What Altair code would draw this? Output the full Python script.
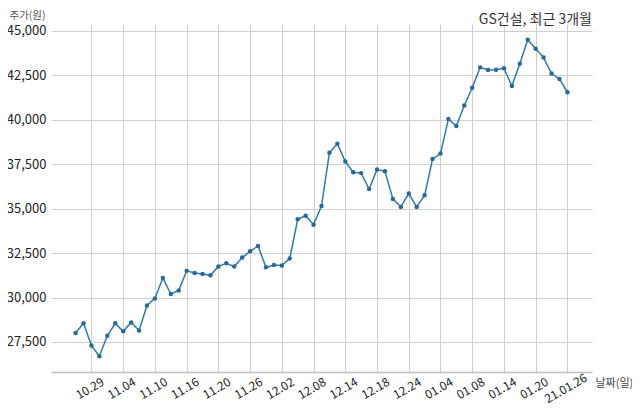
import altair as alt
import pandas as pd

dates = ["10.27","10.28","10.29","10.30","11.02","11.03","11.04","11.05","11.06","11.09",
         "11.10","11.11","11.12","11.13","11.16","11.17","11.18","11.19","11.20","11.23",
         "11.24","11.25","11.26","11.27","11.30","12.01","12.02","12.03","12.04","12.07",
         "12.08","12.09","12.10","12.11","12.14","12.15","12.16","12.17","12.18","12.21",
         "12.22","12.23","12.24","12.28","12.29","12.30","01.04","01.05","01.06","01.07",
         "01.08","01.11","01.12","01.13","01.14","01.15","01.18","01.19","01.20","01.21",
         "01.22","01.25","01.26"]

prices = [28000, 28550, 27300, 26700, 27850, 28550, 28100, 28600, 28150, 29550,
          29950, 31100, 30200, 30400, 31500, 31380, 31330, 31250, 31750, 31930,
          31740, 32250, 32600, 32900, 31700, 31830, 31800, 32200, 34400, 34600,
          34100, 35150, 38150, 38650, 37650, 37050, 37000, 36100, 37200, 37100,
          35550, 35100, 35850, 35100, 35750, 37800, 38100, 40050, 39650, 40800,
          41800, 42950, 42800, 42820, 42900, 41900, 43150, 44500, 44000, 43500,
          42600, 42300, 41550]

tick_idx = [2, 6, 10, 14, 18, 22, 26, 30, 34, 38, 42, 46, 50, 54, 58, 62]
tick_labels = ["10.29","11.04","11.10","11.16","11.20","11.26","12.02","12.08",
               "12.14","12.18","12.24","01.04","01.08","01.14","01.20","21.01.26"]
y_ticks = [27500, 30000, 32500, 35000, 37500, 40000, 42500, 45000]

df = pd.DataFrame({"idx": list(range(len(prices))), "date": dates, "price": prices})

FONT = "Noto Sans CJK KR"
label_arr = "[" + ",".join("'" + t + "'" for t in tick_labels) + "]"
label_expr = label_arr + "[round((datum.value-2)/4)]"

x = alt.X("idx:Q",
          scale=alt.Scale(domain=[-3.1, 65.1], nice=False, zero=False),
          axis=alt.Axis(values=tick_idx, labelExpr=label_expr, labelAngle=-30,
                        labelAlign="center", labelBaseline="middle", labelPadding=16,
                        labelOffset=-2, labelOverlap=False, labelBound=False,
                        labelFont=FONT, labelFontSize=12, labelColor="#222222",
                        ticks=False, grid=True, gridColor="#cfcfcf",
                        domain=True, domainColor="#bdbdbd", domainWidth=1.5,
                        title="날짜(일)", titleFont=FONT, titleFontSize=11,
                        titleFontWeight="normal", titleColor="#444444",
                        titleAlign="left", titleBaseline="middle",
                        titleX=544, titleY=11, titleAngle=0))
y = alt.Y("price:Q",
          scale=alt.Scale(domain=[25810, 45390], nice=False, zero=False),
          axis=alt.Axis(values=y_ticks, format=",.0f", labelFont=FONT, labelFontSize=13,
                        labelColor="#222222", labelPadding=5, ticks=False,
                        labelOverlap=False,
                        grid=True, gridColor="#cfcfcf", domain=False,
                        title="주가(원)", titleFont=FONT, titleFontSize=10.5,
                        titleFontWeight="normal", titleColor="#555555",
                        titleAngle=0, titleAlign="center", titleBaseline="middle",
                        titleX=-24, titleY=-9))

base = alt.Chart(df)
line = base.mark_line(color="#2e7ab0", strokeWidth=1.5).encode(x=x, y=y)
pts = base.mark_circle(color="#2a6896", size=20, opacity=1).encode(x=x, y=y)

chart = (line + pts).properties(
    width=541, height=348,
    title=alt.TitleParams("GS건설, 최근 3개월", anchor="end", frame="group", font=FONT,
                          fontSize=14, fontWeight="normal", color="#333333",
                          offset=4, dy=21),
    autosize=alt.AutoSizeParams(type="none"),
    padding={"left": 43, "top": 16, "right": 40, "bottom": 34},
).configure_view(stroke=None)

chart.save("out.html", embed_options={"renderer": "svg", "actions": False})
